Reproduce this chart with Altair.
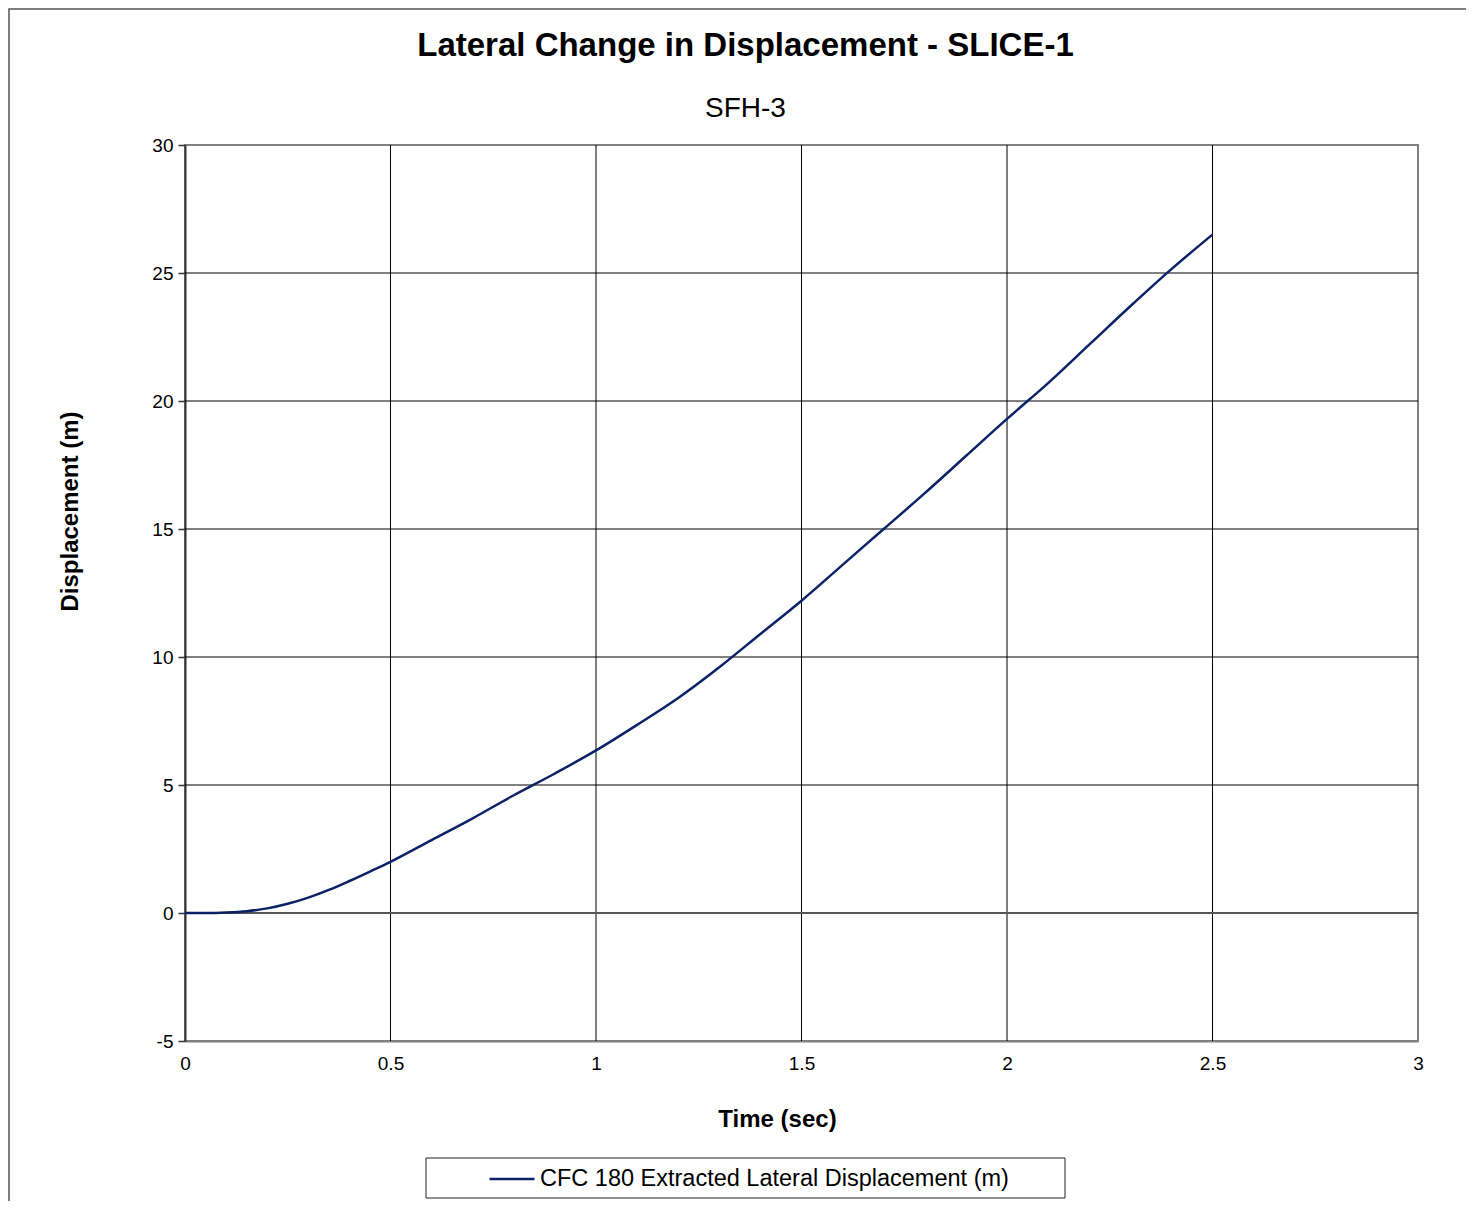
import altair as alt
import pandas as pd

time_s = [0, 0.05, 0.1, 0.15, 0.2, 0.25, 0.3, 0.35, 0.4, 0.45, 0.5, 0.6, 0.7, 0.8, 0.9,
          1.0, 1.1, 1.2, 1.3, 1.4, 1.5, 1.6, 1.7, 1.8, 1.9, 2.0, 2.1, 2.2, 2.3, 2.4, 2.5]
disp_m = [0, 0.0, 0.02, 0.07, 0.18, 0.36, 0.6, 0.9, 1.25, 1.62, 2.0, 2.85, 3.7, 4.6, 5.45,
          6.35, 7.35, 8.4, 9.6, 10.9, 12.2, 13.6, 15.0, 16.4, 17.85, 19.3, 20.7, 22.2, 23.7, 25.15, 26.5]
series_name = "CFC 180 Extracted Lateral Displacement (m)"
x_ticks = [0, 0.5, 1, 1.5, 2, 2.5, 3]
y_ticks = [-5, 0, 5, 10, 15, 20, 25, 30]
x_grid = [0.5, 1, 1.5, 2, 2.5]
y_grid = [5, 10, 15, 20, 25]

df = pd.DataFrame({"t": time_s, "d": disp_m, "series": [series_name] * len(time_s)})
zero_df = pd.DataFrame({"y0": [0]})

FONT = "Liberation Sans"
W, H = 1233, 896

xscale = alt.Scale(domain=[0, 3], nice=False, zero=False)
yscale = alt.Scale(domain=[-5, 30], nice=False, zero=False)

xgrid = alt.Chart(pd.DataFrame({"g": x_grid})).mark_rule(color="black", strokeWidth=1).encode(
    x=alt.X("g:Q", scale=xscale))
ygrid = alt.Chart(pd.DataFrame({"g": y_grid})).mark_rule(color="black", strokeWidth=1).encode(
    y=alt.Y("g:Q", scale=yscale))
zero_line = alt.Chart(zero_df).mark_rule(color="#555555", strokeWidth=2).encode(
    y=alt.Y("y0:Q", scale=yscale))

# decoration: outer chart frame and legend box
frame = alt.Chart(zero_df).mark_rect(fill=None, stroke="#555555", strokeWidth=1.5, clip=False).encode(
    x=alt.value(-176), x2=alt.value(1300), y=alt.value(-136), y2=alt.value(1100))
legend_box = alt.Chart(zero_df).mark_rect(fill="white", stroke="#222222", strokeWidth=1, clip=False).encode(
    x=alt.value(241), x2=alt.value(880), y=alt.value(1013), y2=alt.value(1053))

line = alt.Chart(df).mark_line(strokeWidth=2.5, interpolate="monotone").encode(
    x=alt.X("t:Q", scale=xscale,
            axis=alt.Axis(values=x_ticks, title="Time (sec)", grid=False, ticks=False, tickSize=0,
                          labelExpr="'' + datum.value",
                          labelFontSize=19, labelFont=FONT, labelColor="black",
                          labelPadding=22, labelBaseline="middle", labelFlush=False,
                          domain=True, domainColor="#808080", domainWidth=2,
                          titleFont=FONT, titleFontSize=24, titleFontWeight="bold", titleColor="black",
                          titleX=592, titleY=78, titleBaseline="middle", titleAnchor="middle")),
    y=alt.Y("d:Q", scale=yscale,
            axis=alt.Axis(values=y_ticks, title="Displacement (m)", grid=False, ticks=True, tickSize=7,
                          tickColor="#333333", tickWidth=1.5,
                          labelExpr="'' + datum.value",
                          labelFontSize=19, labelFont=FONT, labelColor="black", labelPadding=5,
                          labelFlush=False,
                          domain=True, domainColor="#333333", domainWidth=2,
                          titleFont=FONT, titleFontSize=24, titleFontWeight="bold", titleColor="black",
                          titleX=-115, titleY=366, titleAngle=270, titleBaseline="middle",
                          titleAnchor="middle")),
    color=alt.Color("series:N",
                    scale=alt.Scale(domain=[series_name], range=["#0b2266"]),
                    legend=alt.Legend(orient="none", legendX=303, legendY=1010, title=None,
                                      symbolType="stroke", symbolSize=2025, symbolStrokeWidth=2.5,
                                      labelFontSize=23.5, labelFont=FONT, labelColor="black",
                                      labelOffset=4, labelLimit=800, padding=0)),
)

chart = alt.layer(frame, xgrid, ygrid, zero_line, legend_box, line).properties(
    width=W, height=H,
    title=alt.TitleParams(
        text="Lateral Change in Displacement - SLICE-1",
        subtitle="SFH-3",
        anchor="middle", frame="group", dx=-56,
        font=FONT, fontSize=33, fontWeight="bold", color="black",
        subtitleFont=FONT, subtitleFontSize=28, subtitleColor="black",
        subtitlePadding=32, offset=-115),
    autosize=alt.AutoSizeParams(type="none"),
    padding={"left": 177, "top": 137, "right": 48, "bottom": 160},
    background="white",
).configure_view(stroke="#808080", strokeWidth=2)

chart.save("out.html", embed_options={"renderer": "svg", "actions": False})
